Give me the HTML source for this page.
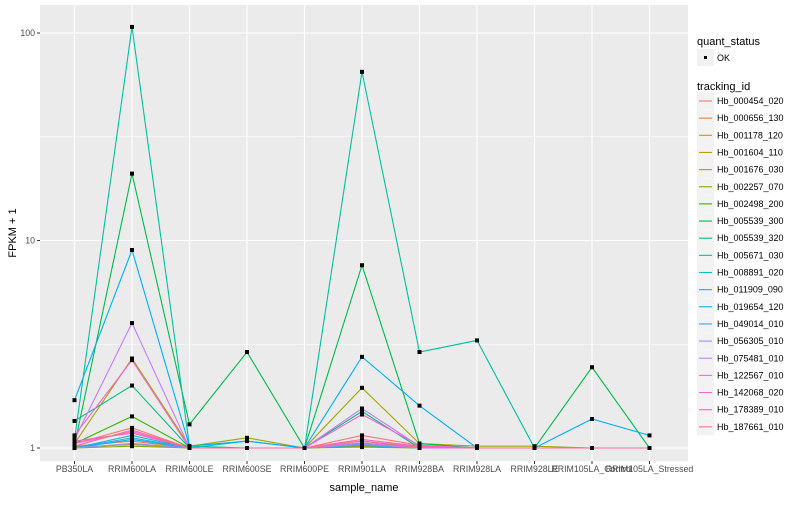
<!DOCTYPE html>
<html><head><meta charset="utf-8"><style>
body{margin:0;background:#fff;font-family:"Liberation Sans",sans-serif}
svg text{font-family:"Liberation Sans",sans-serif}
</style></head><body>
<svg id="chart" width="800" height="500"></svg>
<script>
const categories=["PB350LA","RRIM600LA","RRIM600LE","RRIM600SE","RRIM600PE","RRIM901LA","RRIM928BA","RRIM928LA","RRIM928LE","RRIM105LA_Control","RRIM105LA_Stressed"];
const seriesNames=["Hb_000454_020","Hb_000656_130","Hb_001178_120","Hb_001604_110","Hb_001676_030","Hb_002257_070","Hb_002498_200","Hb_005539_300","Hb_005539_320","Hb_005671_030","Hb_008891_020","Hb_011909_090","Hb_019654_120","Hb_049014_010","Hb_056305_010","Hb_075481_010","Hb_122567_010","Hb_142068_020","Hb_178389_010","Hb_187661_010"];
const seriesColors=["#F8766D","#EA8331","#D89000","#C09B00","#A3A500","#7CAE00","#39B600","#00BB4E","#00BF7D","#00C1A3","#00BFC4","#00BAE0","#00B0F6","#35A2FF","#9590FF","#C77CFF","#E76BF3","#FA62DB","#FF62BC","#FF6C91"];
const s01=[1.05,1.25,1,1,1,1.15,1.03,1,1,1,1];
const s02=[1.02,1.08,1,1,1,1.05,1.01,1,1,1,1];
const s03=[1.0,1.05,1,1,1,1.03,1,1,1,1,1];
const s04=[1.01,1.04,1,1,1,1.02,1,1,1,1,1];
const s05=[1.05,2.7,1.02,1.12,1,1.95,1.05,1.02,1.02,1,1];
const s06=[1.0,1.02,1,1,1,1.01,1,1,1,1,1];
const s07=[1.05,1.42,1,1,1,1.08,1,1,1,1,1];
const s08=[1.03,21,1.3,2.9,1,7.6,1.05,1,1,2.45,1];
const s09=[1.35,2.0,1,1,1,1.5,1,1,1,1,1];
const s10=[1.1,107,1.02,1,1,65,2.9,3.3,1,1,1];
const s11=[1.0,1.15,1,1.08,1,1.05,1,1,1,1,1];
const s12=[1.0,1.1,1,1,1,1.03,1,1,1,1,1];
const s13=[1.7,9,1.02,1.08,1,2.75,1.6,1,1,1.38,1.15];
const s14=[1.0,1.12,1,1,1,1.05,1,1,1,1,1];
const s15=[1.0,1.05,1,1,1,1.04,1,1,1,1,1];
const s16=[1.1,4,1,1,1,1.55,1.02,1,1,1,1];
const s17=[1.05,1.2,1,1,1,1.06,1,1,1,1,1];
const s18=[1.15,2.65,1,1,1,1.45,1.03,1,1,1,1];
const s19=[1.08,1.18,1,1,1,1.1,1.02,1,1,1,1];
const s20=[1.02,1.22,1,1,1,1.08,1.01,1,1,1,1];
const seriesValues=[s01,s02,s03,s04,s05,s06,s07,s08,s09,s10,s11,s12,s13,s14,s15,s16,s17,s18,s19,s20];
const yTicks=[1,10,100];
const yTickLabels=["1","10","100"];

const NS="http://www.w3.org/2000/svg";
const svg=document.getElementById('chart');
function mk(t,a,p){const e=document.createElementNS(NS,t);for(const k in a)e.setAttribute(k,a[k]);(p||svg).appendChild(e);return e;}
const L=40,R=688,T=5,B=461;
const x0=74.5,dx=57.5;
function xs(i){return x0+i*dx;}
function ys(v){return 448-Math.log10(v)*207.5;}

const panel=mk('rect',{x:L,y:T,width:R-L,height:B-T,fill:'#EBEBEB'});


[Math.sqrt(10),Math.sqrt(1000)].forEach(v=>{mk('line',{x1:L,x2:R,y1:ys(v),y2:ys(v),stroke:'#fff','stroke-width':0.5});});
yTicks.forEach((v,i)=>{
  mk('line',{x1:L,x2:R,y1:ys(v),y2:ys(v),stroke:'#fff','stroke-width':1.1});
  mk('line',{x1:L-3,x2:L,y1:ys(v),y2:ys(v),stroke:'#333','stroke-width':1});
  const t=mk('text',{x:L-5,y:ys(v)+3,'text-anchor':'end','font-size':8.8,fill:'#4D4D4D'});
  t.textContent=yTickLabels[i];
  
  
});
categories.forEach((c,i)=>{
  mk('line',{x1:xs(i),x2:xs(i),y1:T,y2:B,stroke:'#fff','stroke-width':1.1});
  mk('line',{x1:xs(i),x2:xs(i),y1:B,y2:B+3,stroke:'#333','stroke-width':1});
  const t=mk('text',{x:xs(i),y:B+11,'text-anchor':'middle','font-size':8.8,fill:'#4D4D4D'});
  t.textContent=c;
  
  
});
seriesValues.forEach((vals,si)=>{
  const pts=vals.map((v,i)=>xs(i)+','+ys(v)).join(' ');
  const pl=mk('polyline',{points:pts,fill:'none',stroke:seriesColors[si],'stroke-width':1.1});
  
  
});
seriesValues.forEach((vals,si)=>{
  vals.forEach((v,i)=>{
    const r=mk('rect',{x:xs(i)-2,y:ys(v)-2,width:4,height:4,fill:'#000'});
    
    
  });
});
let t=mk('text',{x:(L+R)/2,y:491,'text-anchor':'middle','font-size':11,fill:'#000'});
t.textContent='sample_name';


t=mk('text',{x:16,y:(T+B)/2,'text-anchor':'middle','font-size':11,fill:'#000',transform:`rotate(-90 16 ${(T+B)/2})`});
t.textContent='FPKM + 1';


t=mk('text',{x:697,y:45,'font-size':11,fill:'#000'});
t.textContent='quant_status';


mk('rect',{x:697,y:49,width:17,height:17,fill:'#F2F2F2'});
mk('rect',{x:704,y:56,width:3,height:3,fill:'#000'});
t=mk('text',{x:717,y:61,'font-size':9,fill:'#000'});
t.textContent='OK';


t=mk('text',{x:697,y:90,'font-size':11,fill:'#000'});
t.textContent='tracking_id';


seriesNames.forEach((n,i)=>{
  const y=92.5+i*17.15;
  mk('rect',{x:697,y:y,width:17,height:17,fill:'#F2F2F2'});
  mk('line',{x1:699,x2:712,y1:y+8.5,y2:y+8.5,stroke:seriesColors[i],'stroke-width':1.1});
  const tt=mk('text',{x:717,y:y+11.5,'font-size':9,fill:'#000'});
  tt.textContent=n;
  
  
});
</script>
</body></html>
